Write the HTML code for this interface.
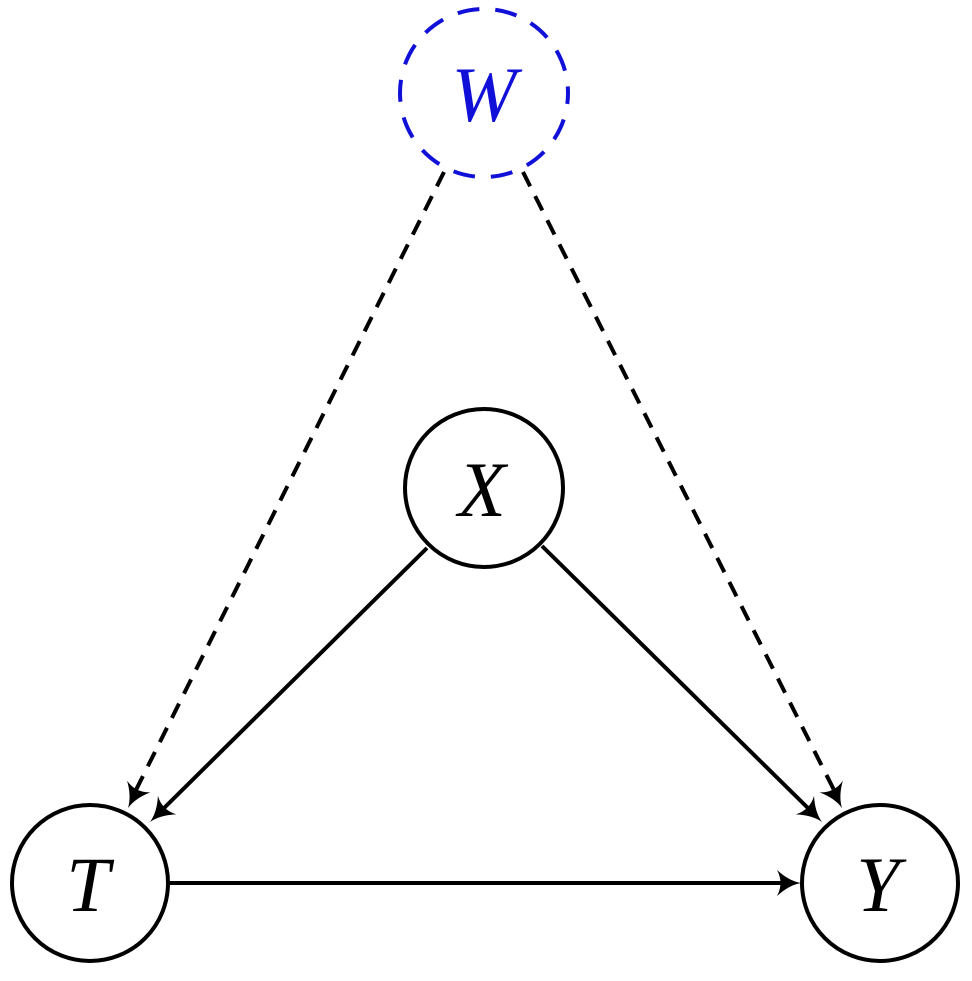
<!DOCTYPE html>
<html><head><style>html,body{margin:0;padding:0;background:#fff}</style></head>
<body>
<svg width="972" height="976" viewBox="0 0 972 976" xmlns="http://www.w3.org/2000/svg">
<g fill="none" stroke="#000" stroke-width="4">
<circle cx="484" cy="93" r="84" stroke="#1010d8" stroke-dasharray="22 16" stroke-dashoffset="11"/>
<circle cx="484" cy="488" r="79"/>
<circle cx="90" cy="883" r="78"/>
<circle cx="880" cy="883" r="78"/>
<line x1="444" y1="172" x2="134" y2="794" stroke-dasharray="16 11"/>
<line x1="523" y1="172" x2="836" y2="794" stroke-dasharray="16 11"/>
<line x1="427" y1="548" x2="158" y2="814"/>
<line x1="542" y1="546" x2="814" y2="814"/>
<line x1="170" y1="883" x2="790" y2="883"/>
</g>
<g fill="#000">
<path d="M0,0 Q-12,2 -24,13 Q-17,0 -24,-13 Q-12,-2 0,0Z" transform="translate(128,808) rotate(116.5)"/>
<path d="M0,0 Q-12,2 -24,13 Q-17,0 -24,-13 Q-12,-2 0,0Z" transform="translate(842,808) rotate(63.3)"/>
<path d="M0,0 Q-12,2 -24,13 Q-17,0 -24,-13 Q-12,-2 0,0Z" transform="translate(150,822) rotate(135.3)"/>
<path d="M0,0 Q-12,2 -24,13 Q-17,0 -24,-13 Q-12,-2 0,0Z" transform="translate(822,822) rotate(44.6)"/>
<path d="M0,0 Q-12,2 -24,13 Q-17,0 -24,-13 Q-12,-2 0,0Z" transform="translate(801,883)"/>
</g>
<g font-family="Liberation Serif, serif" font-style="italic" font-size="78" text-anchor="middle">
<text x="484" y="121" fill="#1010d8">W</text>
<text x="482" y="516">X</text>
<text x="88" y="911">T</text>
<text x="878" y="911">Y</text>
</g>
</svg>
</body></html>
